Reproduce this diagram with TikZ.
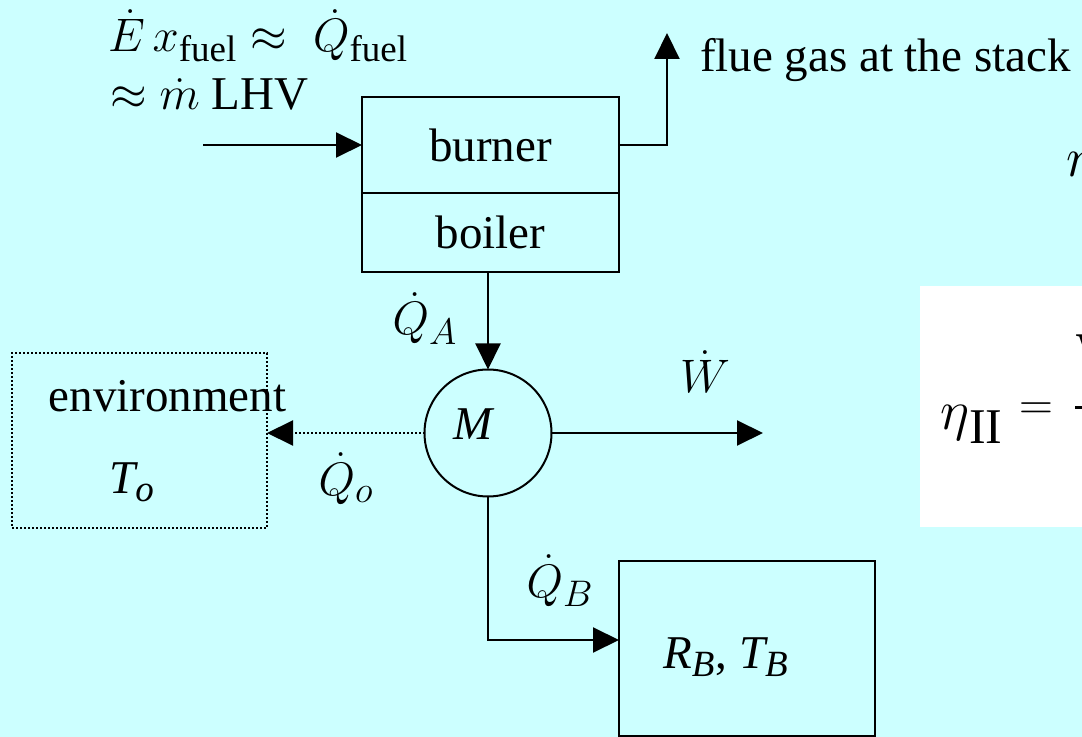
\documentclass[tikz,border=0pt]{standalone}
\usepackage{fix-cm}
\usepackage{amsmath}
\usepackage{fontspec}
\setmainfont{Liberation Serif}
\DeclareMathSizes{23.5}{23.5}{18.5}{14}
\usetikzlibrary{arrows.meta}
\definecolor{bgcyan}{RGB}{204,255,255}
\begin{document}
\begin{tikzpicture}[x=0.5pt,y=-0.5pt,
  every node/.style={font=\fontsize{23.5}{29}\selectfont, inner sep=0pt, outer sep=0pt},
  bigfont/.style={font=\fontsize{28}{32}\selectfont},
  blk/.style={draw, line width=1pt, rectangle},
  dotblk/.style={draw, line width=1pt, rectangle, dash pattern=on 1pt off 1pt},
  conn/.style={line width=1pt, -{Triangle[length=13pt,width=12.5pt]}},
  dotconn/.style={conn, dash pattern=on 1pt off 1pt},
  lbl/.style={anchor=base}]
\useasboundingbox (0,0) rectangle (1082,737);
\fill[bgcyan] (0,0) rectangle (1082,737);
\begin{scope}
\clip (0,0) rectangle (1082,737);
% right-hand (cut off) formulas
\fill[white] (920,286) rectangle (1120,527);
\node[bigfont, anchor=base west] (etaII) at (940,430) {$\eta$\raisebox{-7pt}{\fontsize{25}{25}\selectfont II}};
\node[anchor=base west] (eq) at (1019,420) {$=$};
\node[bigfont, anchor=base west] (num) at (1076,372) {$\mathrm{W}$};
\draw[line width=1.5pt] (1075,408) -- (1100,408);
\node[bigfont, anchor=base west] (etaI) at (1066,177) {$\eta$};
% blocks
\node[blk, minimum width=128.5pt, minimum height=48pt] (burner) at (490.5,145) {burner};
\node[blk, minimum width=128.5pt, minimum height=39.5pt] (boiler) at (490.5,232.5) {boiler};
\node[draw, circle, line width=1pt, minimum size=63.5pt] (M) at (488,433) {};
\node[lbl] (Mlbl) at (473,440) {$\mathit{M}$};
\node[dotblk, minimum width=127.5pt, minimum height=87.5pt] (env) at (139.5,440.5) {};
\node[lbl] (envtxt) at (167.5,412) {environment};
\node[lbl] (To) at (132,494) {$\mathit{T}_{\mathit{o}}$};
\node[blk, minimum width=128pt, minimum height=87.5pt] (RB) at (747,648.5) {};
\node[lbl] (RBtxt) at (726,668) {$\mathit{R}_{\mathit{B}}$, $\mathit{T}_{\mathit{B}}$};
% texts
\node[anchor=base west] (fuel1) at (108,52) {$\dot E\, x_{\mathrm{fuel}} \approx\; \dot Q_{\mathrm{fuel}}$};
\node[anchor=base west] (fuel2) at (110,110) {$\approx \dot m\ \mathrm{LHV}$};
\node[anchor=base west] (flue) at (700,72) {flue gas at the stack};
\node[lbl] (lQA) at (425,335) {$\dot Q_A$};
\node[lbl] (lQo) at (346,495) {$\dot Q_o$};
\node[lbl] (lW) at (705,393) {$\dot W$};
\node[lbl] (lQB) at (560,597) {$\dot Q_B$};
% connectors
\coordinate (fuelin) at (203,145);
\coordinate (flueout) at (667,33);
\coordinate (wout) at (763,433);
\coordinate (qbturn) at (488,640);
\draw[conn] (fuelin) -- (burner.west);
\draw[conn] (burner.east) -| (flueout);
\draw[conn] (boiler.south -| M.north) -- (M.north);
\draw[dotconn] (M.west) -- (M.west -| env.east);
\draw[conn] (M.east) -- (wout);
\draw[conn] (M.south) -- (qbturn) -- (qbturn -| RB.west);
\end{scope}
\end{tikzpicture}
\end{document}
